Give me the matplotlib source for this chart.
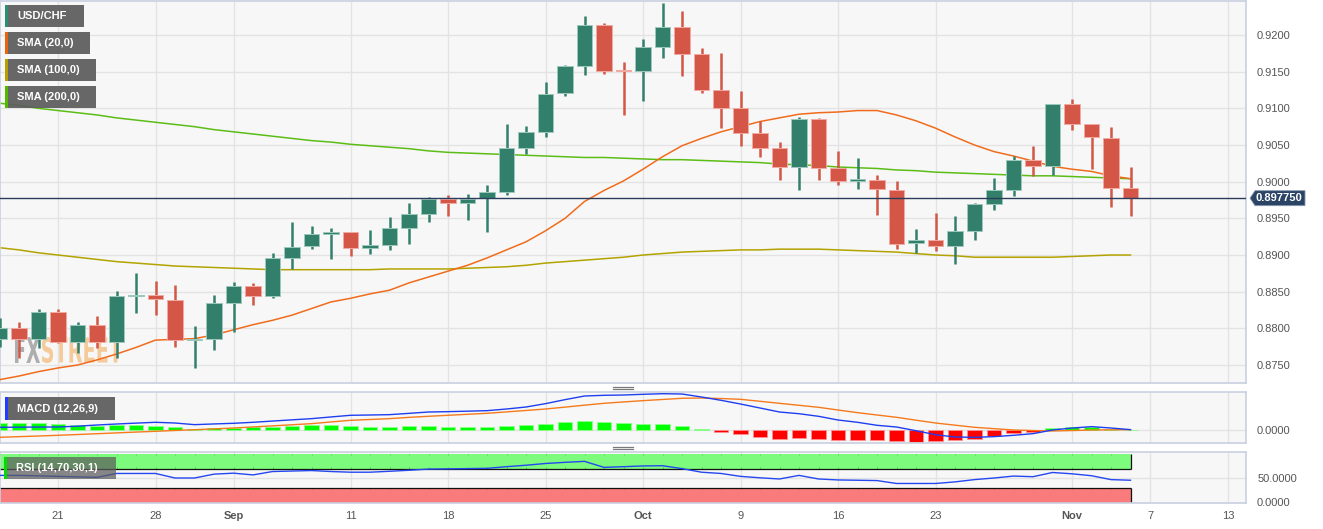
import numpy as np
import pandas as pd
import matplotlib
matplotlib.use("Agg")
import matplotlib.pyplot as plt
from matplotlib.patches import Rectangle, Polygon, PathPatch
from matplotlib.lines import Line2D
from matplotlib.textpath import TextPath
from matplotlib.font_manager import FontProperties
from matplotlib.transforms import Affine2D, IdentityTransform, blended_transform_factory

plt.rcParams['font.family'] = ['Liberation Sans', 'DejaVu Sans']

W, H = 1323, 529

# trading days shown (Aug 16 .. Nov 6, 2023)
dates = pd.bdate_range("2023-08-16", "2023-11-06")

opens = [0.8785, 0.8800, 0.8785, 0.8822, 0.8781, 0.8805, 0.8781, 0.8844, 0.8845, 0.8839,
         0.8784, 0.8786, 0.8835, 0.8858, 0.8844, 0.8896, 0.8912, 0.8929, 0.8931, 0.8909,
         0.8914, 0.8937, 0.8956, 0.8976, 0.8971, 0.8978, 0.8986, 0.9046, 0.9068, 0.9121,
         0.9158, 0.9214, 0.9152, 0.9151, 0.9184, 0.9211, 0.9174, 0.9125, 0.9100, 0.9066,
         0.9046, 0.9020, 0.9085, 0.9019, 0.9001, 0.9002, 0.8989, 0.8917, 0.8921, 0.8912,
         0.8933, 0.8969, 0.8989, 0.9029, 0.9022, 0.9106, 0.9078, 0.9060, 0.8991]
highs = [0.8814, 0.8808, 0.8827, 0.8827, 0.8809, 0.8817, 0.8851, 0.8875, 0.8865, 0.8859,
         0.8803, 0.8845, 0.8863, 0.8862, 0.8903, 0.8945, 0.8940, 0.8937, 0.8932, 0.8934,
         0.8952, 0.8971, 0.8979, 0.8982, 0.8983, 0.8995, 0.9079, 0.9076, 0.9136, 0.9159,
         0.9226, 0.9216, 0.9163, 0.9195, 0.9244, 0.9233, 0.9182, 0.9176, 0.9124, 0.9083,
         0.9054, 0.9088, 0.9087, 0.9042, 0.9032, 0.9009, 0.9001, 0.8935, 0.8957, 0.8953,
         0.8971, 0.9005, 0.9035, 0.9049, 0.9106, 0.9113, 0.9078, 0.9075, 0.9020]
lows = [0.8774, 0.8760, 0.8773, 0.8780, 0.8766, 0.8773, 0.8760, 0.8821, 0.8818, 0.8775,
        0.8746, 0.8770, 0.8795, 0.8832, 0.8841, 0.8881, 0.8908, 0.8895, 0.8898, 0.8901,
        0.8907, 0.8915, 0.8945, 0.8953, 0.8948, 0.8931, 0.8982, 0.9038, 0.9061, 0.9117,
        0.9145, 0.9147, 0.9091, 0.9110, 0.9169, 0.9144, 0.9121, 0.9073, 0.9048, 0.9034,
        0.9002, 0.8988, 0.9002, 0.8995, 0.8990, 0.8955, 0.8908, 0.8903, 0.8905, 0.8888,
        0.8920, 0.8961, 0.8980, 0.9008, 0.9009, 0.9070, 0.9017, 0.8966, 0.8953]
closes = [0.8800, 0.8785, 0.8822, 0.8781, 0.8805, 0.8781, 0.8844, 0.8846, 0.8840, 0.8784,
          0.8786, 0.8835, 0.8858, 0.8844, 0.8896, 0.8911, 0.8929, 0.8931, 0.8909, 0.8914,
          0.8937, 0.8956, 0.8976, 0.8971, 0.8976, 0.8986, 0.9046, 0.9068, 0.9119, 0.9158,
          0.9214, 0.9151, 0.9151, 0.9184, 0.9211, 0.9174, 0.9125, 0.9100, 0.9066, 0.9046,
          0.9020, 0.9085, 0.9019, 0.9001, 0.9003, 0.8990, 0.8915, 0.8921, 0.8912, 0.8933,
          0.8969, 0.8989, 0.9029, 0.9022, 0.9106, 0.9079, 0.9061, 0.8992, 0.89775]

sma20 = [0.8730, 0.8735, 0.8741, 0.8746, 0.8750, 0.8757, 0.8765, 0.8774, 0.8784, 0.8785,
         0.8786, 0.8791, 0.8798, 0.8805, 0.8811, 0.8818, 0.8827, 0.8836, 0.8841, 0.8847,
         0.8852, 0.8862, 0.8870, 0.8878, 0.8886, 0.8896, 0.8907, 0.8918, 0.8933, 0.8950,
         0.8973, 0.8988, 0.9001, 0.9017, 0.9034, 0.9049, 0.9059, 0.9068, 0.9075, 0.9082,
         0.9087, 0.9092, 0.9094, 0.9095, 0.9097, 0.9097, 0.9091, 0.9083, 0.9073, 0.9061,
         0.9050, 0.9041, 0.9035, 0.9028, 0.9021, 0.9017, 0.9014, 0.9008, 0.9004]
sma100 = [0.8910, 0.8907, 0.8903, 0.8900, 0.8897, 0.8894, 0.8891, 0.8889, 0.8887, 0.8885,
          0.8884, 0.8883, 0.8882, 0.8881, 0.8880, 0.8880, 0.8880, 0.8880, 0.8880, 0.8880,
          0.8881, 0.8881, 0.8881, 0.8881, 0.8882, 0.8883, 0.8884, 0.8886, 0.8889, 0.8891,
          0.8893, 0.8895, 0.8897, 0.8900, 0.8902, 0.8904, 0.8905, 0.8906, 0.8907, 0.8907,
          0.8908, 0.8908, 0.8908, 0.8907, 0.8906, 0.8905, 0.8904, 0.8902, 0.8900, 0.8899,
          0.8897, 0.8897, 0.8897, 0.8897, 0.8897, 0.8898, 0.8899, 0.8900, 0.8900]
sma200 = [0.9107, 0.9104, 0.9100, 0.9097, 0.9094, 0.9091, 0.9087, 0.9084, 0.9081, 0.9078,
          0.9075, 0.9071, 0.9068, 0.9065, 0.9062, 0.9059, 0.9056, 0.9054, 0.9051, 0.9049,
          0.9047, 0.9045, 0.9042, 0.9040, 0.9039, 0.9038, 0.9037, 0.9036, 0.9035, 0.9034,
          0.9033, 0.9033, 0.9032, 0.9031, 0.9030, 0.9030, 0.9029, 0.9028, 0.9027, 0.9026,
          0.9024, 0.9023, 0.9022, 0.9020, 0.9019, 0.9018, 0.9016, 0.9015, 0.9013, 0.9012,
          0.9011, 0.9010, 0.9009, 0.9008, 0.9008, 0.9007, 0.9006, 0.9005, 0.9004]

macd = [0.00051, 0.00053, 0.00055, 0.00056, 0.00070, 0.00090, 0.00107, 0.00122, 0.00136, 0.00124,
        0.00096, 0.00108, 0.00119, 0.00136, 0.00157, 0.00178, 0.00198, 0.00227, 0.00255, 0.00260,
        0.00266, 0.00288, 0.00311, 0.00317, 0.00325, 0.00334, 0.00362, 0.00396, 0.00453, 0.00521,
        0.00583, 0.00595, 0.00600, 0.00612, 0.00622, 0.00617, 0.00566, 0.00510, 0.00447, 0.00379,
        0.00311, 0.00282, 0.00238, 0.00175, 0.00136, 0.00085, 0.00056, -0.00007, -0.00075, -0.00114,
        -0.00119, -0.00108, -0.00085, -0.00057, 0.00005, 0.00039, 0.00062, 0.00039, 0.00011]
signal = [-0.00119, -0.00108, -0.00097, -0.00085, -0.00072, -0.00058, -0.00044, -0.00030, -0.00017, -0.00003,
          0.00010, 0.00024, 0.00039, 0.00057, 0.00075, 0.00094, 0.00113, 0.00142, 0.00170, 0.00184,
          0.00198, 0.00220, 0.00238, 0.00255, 0.00272, 0.00289, 0.00313, 0.00337, 0.00362, 0.00394,
          0.00427, 0.00459, 0.00482, 0.00504, 0.00524, 0.00544, 0.00549, 0.00540, 0.00527, 0.00493,
          0.00459, 0.00425, 0.00391, 0.00345, 0.00300, 0.00260, 0.00221, 0.00172, 0.00124, 0.00087,
          0.00051, 0.00028, 0.00005, -0.00004, -0.00012, -0.00004, 0.00005, 0.00008, 0.00011]
hist = [0.00125, 0.00119, 0.00119, 0.00102, 0.00091, 0.00074, 0.00085, 0.00091, 0.00079, 0.00051,
        0.00028, 0.00040, 0.00045, 0.00051, 0.00062, 0.00079, 0.00091, 0.00091, 0.00074, 0.00062,
        0.00062, 0.00068, 0.00074, 0.00062, 0.00057, 0.00051, 0.00074, 0.00085, 0.00108, 0.00136,
        0.00164, 0.00142, 0.00119, 0.00108, 0.00102, 0.00074, 0.00023, -0.00023, -0.00062, -0.00108,
        -0.00142, -0.00130, -0.00147, -0.00164, -0.00170, -0.00159, -0.00187, -0.00198, -0.00187, -0.00170,
        -0.00142, -0.00091, -0.00045, -0.00023, 0.00034, 0.00051, 0.00057, 0.00028, 0.00011]

rsi = [56, 56, 55, 54, 53, 52, 60, 60, 60, 50.6,
       50.6, 58.6, 60.6, 57, 64, 65, 66, 64, 62.6, 62.6,
       64.5, 66.6, 69, 69.5, 70, 70.6, 74, 77, 80.6, 83,
       85, 72.6, 74, 75.5, 76, 70, 62.6, 60, 54, 51,
       48.6, 56, 48.6, 46.6, 46, 45.3, 39.3, 39.3, 39.3, 42.6,
       47.3, 50.6, 54.6, 53.3, 62, 59.3, 55.3, 47.3, 46]

last_price = 0.89775

price_ticks = [0.8750, 0.8800, 0.8850, 0.8900, 0.8950, 0.9000, 0.9050, 0.9100, 0.9150, 0.9200]
tick_dates = ["2023-08-21", "2023-08-28", "2023-09-01", "2023-09-11", "2023-09-18", "2023-09-25",
              "2023-10-02", "2023-10-09", "2023-10-16", "2023-10-23", "2023-11-01", "2023-11-07",
              "2023-11-13"]
tick_labels = ["21", "28", "Sep", "11", "18", "25", "Oct", "9", "16", "23", "Nov", "7", "13"]
month_labels = {"Sep", "Oct", "Nov"}

GREEN = "#32806c"
RED = "#d35647"
GRID = "#e3e3e3"
SPINE = "#c9d0e0"
BG = "#f7f7f7"


def fx(x):
    return x / W


def fy(y):
    return 1 - y / H


axis_days = pd.bdate_range("2023-08-16", "2023-11-13")
xs = np.arange(len(dates))
tick_pos = [axis_days.get_loc(pd.Timestamp(d)) for d in tick_dates]
XLIM = (3 - 58 / 19.5, 3 + 1188 / 19.5)

fig = plt.figure(figsize=(W / 100, H / 100), dpi=100)
fig.patch.set_facecolor("white")

ax = fig.add_axes([0, fy(383), 1246 / W, 382 / H])
ax_m = fig.add_axes([0, fy(443), 1246 / W, 51 / H])
ax_r = fig.add_axes([0, fy(503), 1246 / W, 51 / H])

for a in (ax, ax_m, ax_r):
    a.set_facecolor(BG)
    a.set_xlim(*XLIM)
    a.set_xticks(tick_pos)
    a.grid(True, color=GRID, lw=1.0, zorder=0)
    a.set_axisbelow(True)
    for s in a.spines.values():
        s.set_color(SPINE)
        s.set_linewidth(1.2)
    a.yaxis.tick_right()
    a.tick_params(axis="both", length=0, labelsize=8, labelcolor="#555555", pad=8)
    a.tick_params(axis="x", labelbottom=False)

# ---- main price panel ----
PX = 0.005 / 36.67
ax.set_ylim(0.92 - 348 * PX, 0.92 + 34 * PX)
ax.set_yticks(price_ticks)
ax.set_yticklabels([f"{v:.4f}" for v in price_ticks])

o = np.array(opens)
c = np.array(closes)
up = c >= o
cols = np.where(up, GREEN, RED)
edge = np.where(up, "#9cc9bb", "#f2aaa2")
ax.vlines(xs, lows, highs, colors=cols, lw=1.8, zorder=3)
lo_body = np.minimum(o, c)
hgt = np.abs(c - o)
min_h = 1.6 * PX
lo_body = np.where(hgt < min_h, (o + c) / 2 - min_h / 2, lo_body)
hgt = np.maximum(hgt, min_h)
ax.bar(xs, hgt, bottom=lo_body, width=0.77, color=cols, edgecolor=edge, lw=0.7, zorder=4)

ax.plot(xs, sma200, color="#5cbd16", lw=1.1, zorder=2.5)
ax.plot(xs, sma100, color="#b3a300", lw=1.1, zorder=2.5)
ax.plot(xs, sma20, color="#f06c1c", lw=1.1, zorder=2.6)
ax.axhline(last_price, color="#2c3d5b", lw=1.0, zorder=5)

# price tag on the right axis
bt = blended_transform_factory(ax.transAxes, ax.transData)
hh = 7.5 * PX
aw = 1 / 1246
tag = Polygon([(1 + 4 * aw, last_price), (1 + 9 * aw, last_price + hh), (1 + 59 * aw, last_price + hh),
               (1 + 59 * aw, last_price - hh), (1 + 9 * aw, last_price - hh)],
              closed=True, transform=bt, facecolor="#2b4466", edgecolor="#8899b0", lw=0.6,
              clip_on=False, zorder=6)
ax.add_patch(tag)
ax.text(1 + 10 * aw, last_price, "0.897750", transform=bt, color="white", fontsize=8,
        fontweight="bold", va="center", ha="left", clip_on=False, zorder=7)

# watermark
def watermark(text, x0, x1, y_top, y_bot, color):
    tp = TextPath((0, 0), text, size=10, prop=FontProperties(family="DejaVu Sans", weight="bold"))
    bb = tp.get_extents()
    tr = (Affine2D().translate(-bb.x0, -bb.y0)
          .scale((x1 - x0) / bb.width, (y_bot - y_top) / bb.height)
          .translate(x0, H - y_bot))
    patch = PathPatch(tr.transform_path(tp), facecolor=color, edgecolor="none", alpha=0.7,
                      transform=IdentityTransform(), zorder=1.5)
    ax.add_patch(patch)


watermark("FX", 15, 40, 337, 363, "#8f8f8f")
watermark("STREET", 42, 122, 337, 363, "#f4b774")

# ---- MACD panel ----
MU = 0.00017
ax_m.set_ylim((430.3 - 443) * MU, (430.3 - 392) * MU)
ax_m.set_yticks([0.0])
ax_m.set_yticklabels(["0.0000"])
hcols = np.where(np.array(hist) >= 0, "#00ff00", "#ff0000")
hedge = np.where(np.array(hist) >= 0, "#8cff8c", "#ff9090")
ax_m.bar(xs, hist, width=0.75, color=hcols, edgecolor=hedge, lw=0.6, zorder=2)
ax_m.plot(xs, signal, color="#f57a1c", lw=1.0, zorder=3)
ax_m.plot(xs, macd, color="#1e3ef0", lw=1.0, zorder=3.1)

# ---- RSI panel ----
RU = 0.484
ax_r.set_ylim(-(503 - 502.5) / RU - 0.0, (502.5 - 452) / RU)
ax_r.set_yticks([0, 50])
ax_r.set_yticklabels(["0.0000", "50.0000"])
x_end = xs[-1]
x_start = XLIM[0] - 1
ax_r.add_patch(Rectangle((x_start, 70), x_end - x_start, 30, facecolor="#7cfb7c", edgecolor="none", zorder=1))
ax_r.add_patch(Rectangle((x_start, 0), x_end - x_start, 30, facecolor="#fa7b7b", edgecolor="none", zorder=1))
ax_r.hlines([70, 30], x_start, x_end, colors="#111111", lw=0.9, zorder=2)
ax_r.vlines(x_end, 70, 100, colors="#111111", lw=0.9, zorder=2)
ax_r.vlines(x_end, 0, 30, colors="#111111", lw=0.9, zorder=2)
ax_r.vlines(xs, 97.5, 100, colors="#000000", lw=0.6, alpha=0.25, zorder=2)
ax_r.vlines(xs, 70, 72.5, colors="#000000", lw=0.6, alpha=0.25, zorder=2)
ax_r.vlines(xs, 27.5, 30, colors="#000000", lw=0.6, alpha=0.25, zorder=2)
ax_r.plot(xs, rsi, color="#2447f0", lw=1.0, zorder=3)

ax_r.tick_params(axis="x", labelbottom=True, pad=6)
ax_r.set_xticklabels(tick_labels)
for lab in ax_r.get_xticklabels():
    if lab.get_text() in month_labels:
        lab.set_fontweight("bold")

# ---- legend boxes ----
def label_box(x0, y0, w, h, strip, text, alpha=0.92):
    fig.add_artist(Rectangle((fx(x0), fy(y0 + h)), w / W, h / H, transform=fig.transFigure,
                             facecolor="#5b5b5b", alpha=alpha, edgecolor="none", zorder=10))
    fig.add_artist(Rectangle((fx(x0), fy(y0 + h)), 3 / W, h / H, transform=fig.transFigure,
                             facecolor=strip, edgecolor="none", zorder=11))
    fig.text(fx(x0 + 12), fy(y0 + h / 2), text, color="white", fontsize=8, fontweight="bold",
             va="center", ha="left", zorder=12)


label_box(5, 5, 79, 22, "#2e8b74", "USD/CHF")
label_box(5, 32, 85, 22, "#e8650f", "SMA (20,0)")
label_box(5, 59, 91, 22, "#b5a000", "SMA (100,0)")
label_box(5, 86, 91, 22, "#55b800", "SMA (200,0)")
label_box(5, 397, 110, 23, "#1f3cff", "MACD (12,26,9)")
label_box(4, 457, 112, 22, "#00dd00", "RSI (14,70,30,1)", alpha=0.72)

# panel resize grips
for yy in (386.5, 389, 446.7, 449.3):
    fig.add_artist(Line2D([fx(613), fx(633)], [fy(yy), fy(yy)], transform=fig.transFigure,
                          color="#7a7a7a", lw=0.9))

fig.savefig("out.png", dpi=100, facecolor="white")
